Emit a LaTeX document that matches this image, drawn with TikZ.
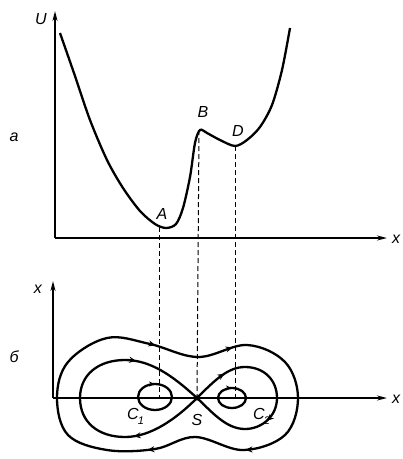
\documentclass[tikz,border=0pt]{standalone}
\usepackage{fontspec}
\setmainfont{Liberation Sans}
\usetikzlibrary{arrows.meta,decorations.markings}
\begin{document}
\begin{tikzpicture}[x=1pt,y=-1pt,
 axis/.style={line width=1.5pt,-{Stealth[length=10pt,width=5pt]}},
 curve/.style={line width=2.3pt},
 guide/.style={line width=1pt,dash pattern=on 5pt off 3pt},
 lbl/.style={font=\itshape\fontsize{16}{16}\selectfont, inner sep=0pt},
 sub/.style={font=\itshape\fontsize{11}{11}\selectfont, inner sep=0pt},
 marks2/.style 2 args={postaction={decorate},decoration={markings,
   mark=at position #1 with {\arrow{Stealth[length=7pt,width=6pt]}},
   mark=at position #2 with {\arrow{Stealth[length=7pt,width=6pt]}}}},
 marks4/.style={postaction={decorate},decoration={markings,
   mark=at position 0.155 with {\arrow{Stealth[length=7pt,width=6pt]}},
   mark=at position 0.285 with {\arrow{Stealth[length=7pt,width=6pt]}},
   mark=at position 0.575 with {\arrow{Stealth[length=7pt,width=6pt]}},
   mark=at position 0.74 with {\arrow{Stealth[length=7pt,width=6pt]}}}},
 mark1/.style={postaction={decorate},decoration={markings,
   mark=at position #1 with {\arrow{Stealth[length=6pt,width=5pt]}}}}
]
\useasboundingbox (0,0) rectangle (403,459);
% ---- top panel
\coordinate (O1) at (55,238);
\coordinate (Utop) at (55,11);
\coordinate (X1) at (387,238);
\draw[axis] (O1) -- (Utop);
\draw[axis] (O1) -- (X1);
\node[lbl] (U) at (41,19) {U};
\node[lbl] (xa) at (396,239) {x};
\node[lbl] (la) at (14,137) {a};
\coordinate (A) at (159,227);
\coordinate (B) at (199,130);
\coordinate (D) at (235,146);
\draw[curve] plot[smooth,tension=0.5] coordinates {(60,33) (75,76) (90,120) (107,160) (123,188) (140,211) (155,224) (166,228) (176,224) (183,208) (190,177) (195,143) (200,130) (207,133) (220,140) (235,146) (247,140) (260,127) (272,105) (282,70) (290,28)};
\node[lbl] (Al) at (162,214) {A};
\node[lbl] (Bl) at (203,112) {B};
\node[lbl] (Dl) at (238,131) {D};
% ---- bottom panel
\coordinate (O2) at (53,398);
\coordinate (Xtop) at (53,281);
\coordinate (X2) at (387,398);
\coordinate (S) at (197,398);
\coordinate (C1) at (155,397);
\coordinate (C2) at (232,398);
\draw[guide] (A) -- (A |- O2);
\draw[guide] (B) -- (S);
\draw[guide] (D) -- (D |- O2);
\draw[axis] (O2) -- (Xtop);
\draw[axis] (O2) -- (X2);
\node[lbl] (xb) at (38,289) {x};
\node[lbl] (xc) at (396,399) {x};
\node[lbl] (lb) at (14,357) {б};
% outer orbit
\draw[curve,marks4] plot[smooth cycle,tension=0.6] coordinates {(57,398) (68,362) (107,338) (150,344) (198,357) (247,345) (285,362) (298,398) (285,435) (243,450) (195,437) (155,449) (107,450) (68,435)};
% separatrix
\draw[curve,marks2={0.25}{0.76}] (S) .. controls (175,420) and (150,437) .. (125,437) .. controls (98,437) and (80,422) .. (80,398) .. controls (80,375) and (98,360) .. (125,360) .. controls (150,360) and (172,375) .. (S);
\draw[curve,marks2={0.17}{0.62}] (S) .. controls (215,380) and (228,367) .. (245,367) .. controls (264,367) and (277,380) .. (277,398) .. controls (277,416) and (262,429) .. (245,429) .. controls (226,429) and (212,412) .. (S);
% small orbits
\draw[curve,mark1=0.75] (C1) ellipse [x radius=17, y radius=13];
\draw[curve,mark1=0.75] (C2) ellipse [x radius=14, y radius=10];
\fill (S) circle (2.5pt);
\node[lbl] (C1l) at (133,414) {C};
\node[sub] (C1s) at (141,421) {1};
\node[lbl] (Sl) at (197,420) {S};
\node[lbl] (C2l) at (259,414) {C};
\node[sub] (C2s) at (267,421) {2};
\end{tikzpicture}
\end{document}
